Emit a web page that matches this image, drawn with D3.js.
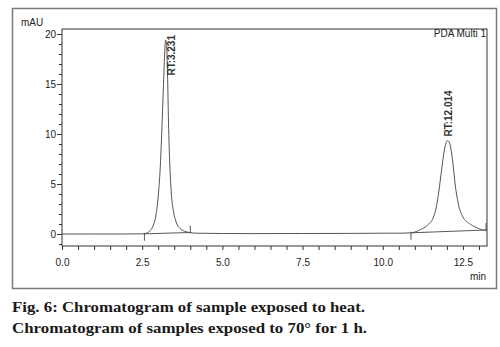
<!DOCTYPE html>
<html>
<head>
<meta charset="utf-8">
<script src="https://cdn.jsdelivr.net/npm/d3@7"></script>
<style>
  html, body { margin: 0; padding: 0; background: #fff; }
  svg { display: block; }
  .ax text { font-family: "Liberation Sans Narrow", "Arial Narrow", "Liberation Sans", Arial, sans-serif; font-size: 10px; fill: #222; }
  .lbl { font-family: "Liberation Sans Narrow", "Arial Narrow", "Liberation Sans", Arial, sans-serif; font-size: 10px; fill: #222; }
  .rt { font-family: "Liberation Sans", Arial, sans-serif; font-size: 10px; font-weight: bold; fill: #333; }
  .cap { font-family: "Book Antiqua", Palatino, "Liberation Serif", "DejaVu Serif", serif; font-size: 15.5px; font-weight: bold; fill: #1a1a1a; }
</style>
</head>
<body>
<svg id="chart" width="500" height="347"></svg>
<script>
// Detector trace, PDA Multi 1 (time in min, absorbance in mAU)
const traceTime = [
  0.0, 1.0, 2.0, 2.55, 2.65, 2.75, 2.85, 2.93, 3.0, 3.06, 3.11, 3.16, 3.2, 3.23, 3.26, 3.29, 3.32, 3.36, 3.41, 3.48, 3.57, 3.68, 3.82, 3.98, 4.2,
  5.0, 6.0, 7.5, 9.0, 10.0, 10.5, 10.88, 11.15, 11.4, 11.57, 11.67, 11.75, 11.83, 11.91, 11.98, 12.02, 12.07, 12.12, 12.19, 12.26, 12.35, 12.5, 12.7, 12.95, 13.2, 13.25
];
const traceMAU = [
  0.0, 0.0, 0.0, 0.02, 0.1, 0.35, 0.9, 1.9, 3.8, 6.5, 10.2, 14.5, 18.0, 19.4, 19.0, 16.0, 11.2, 7.0, 4.0, 2.2, 1.1, 0.55, 0.28, 0.15, 0.08,
  0.05, 0.04, 0.05, 0.06, 0.08, 0.08, 0.12, 0.4, 0.9, 1.6, 2.7, 4.3, 6.3, 8.2, 9.15, 9.35, 9.2, 8.6, 7.0, 4.9, 3.1, 1.7, 1.05, 0.6, 0.38, 0.45
];

// Integrated peaks: retention time, label, baseline start/end
const peakRT = [3.231, 12.014];
const peakLabels = ["RT:3.231", "RT:12.014"];
const peakApex = [19.4, 9.35];
const baseStartT = [2.57, 10.88];
const baseStartV = [0.02, 0.12];
const baseEndT = [4.0, 13.22];
const baseEndV = [0.15, 0.4];

const xMajorTicks = [0, 2.5, 5.0, 7.5, 10.0, 12.5];
const yMajorTicks = [0, 5, 10, 15, 20];

const svg = d3.select("#chart");

// Outer panel frame
svg.append("rect")
  .attr("x", 12.5).attr("y", 8.5).attr("width", 484).attr("height", 280)
  .attr("fill", "none").attr("stroke", "#7a7a7a").attr("stroke-width", 1.5);

const pLeft = 62, pRight = 487, pTop = 29, pBottom = 246;
const x = d3.scaleLinear().domain([0, 13.25]).range([pLeft, pRight]);
const y = d3.scaleLinear().domain([-1.2, 20.5]).range([pBottom, pTop]);

// Minor ticks
const xMinor = d3.range(0, 13.01, 0.5).filter(v => !xMajorTicks.some(m => Math.abs(m - v) < 1e-6));
const yMinor = d3.range(-1, 20.01, 1).filter(v => !yMajorTicks.includes(v));

svg.append("g").attr("class", "ax").attr("transform", `translate(0,${pBottom})`)
  .call(d3.axisBottom(x).tickValues(xMinor).tickSize(4).tickSizeOuter(0).tickFormat(""))
  .call(g => g.select(".domain").remove())
  .call(g => g.selectAll("line").attr("stroke", "#333"));

svg.append("g").attr("class", "ax").attr("transform", `translate(${pLeft},0)`)
  .call(d3.axisLeft(y).tickValues(yMinor).tickSize(3).tickSizeOuter(0).tickFormat(""))
  .call(g => g.select(".domain").remove())
  .call(g => g.selectAll("line").attr("stroke", "#333"));

// Major ticks with labels
svg.append("g").attr("class", "ax").attr("transform", `translate(0,${pBottom})`)
  .call(d3.axisBottom(x).tickValues(xMajorTicks).tickSize(4).tickSizeOuter(0).tickFormat(d3.format(".1f")))
  .call(g => g.select(".domain").remove())
  .call(g => g.selectAll("line").attr("stroke", "#333"))
  .call(g => g.selectAll("text").attr("y", 12.5));

svg.append("g").attr("class", "ax").attr("transform", `translate(${pLeft},0)`)
  .call(d3.axisLeft(y).tickValues(yMajorTicks).tickSize(5).tickPadding(1).tickSizeOuter(0))
  .call(g => g.select(".domain").remove())
  .call(g => g.selectAll("line").attr("stroke", "#333"));

// Plot box
svg.append("rect")
  .attr("x", pLeft).attr("y", pTop).attr("width", pRight - pLeft).attr("height", pBottom - pTop)
  .attr("fill", "none").attr("stroke", "#333").attr("stroke-width", 1);

// Axis titles
svg.append("text").attr("class", "lbl").attr("x", 21).attr("y", 26).text("mAU");
svg.append("text").attr("class", "lbl").attr("x", 486).attr("y", 280).attr("text-anchor", "end").text("min");
svg.append("text").attr("class", "lbl").attr("x", 486).attr("y", 37).attr("text-anchor", "end").text("PDA Multi 1");

// Integration baselines and markers
const plot = svg.append("g");
peakRT.forEach((rt, i) => {
  plot.append("line")
    .attr("x1", x(baseStartT[i])).attr("y1", y(baseStartV[i]))
    .attr("x2", x(baseEndT[i])).attr("y2", y(baseEndV[i]))
    .attr("stroke", "#444").attr("stroke-width", 0.9);
  // start marker points up from below, end marker hangs down from above
  plot.append("line")
    .attr("x1", x(baseStartT[i])).attr("x2", x(baseStartT[i]))
    .attr("y1", y(baseStartV[i]) - 1).attr("y2", y(baseStartV[i]) + 7)
    .attr("stroke", "#444").attr("stroke-width", 0.9);
  plot.append("line")
    .attr("x1", x(baseEndT[i])).attr("x2", x(baseEndT[i]))
    .attr("y1", y(baseEndV[i]) - 7).attr("y2", y(baseEndV[i]) + 1)
    .attr("stroke", "#444").attr("stroke-width", 0.9);
});

// Trace
const pts = traceTime.map((t, i) => [t, traceMAU[i]]);
plot.append("path")
  .datum(pts)
  .attr("fill", "none")
  .attr("stroke", "#555")
  .attr("stroke-width", 1)
  .attr("d", d3.line().x(d => x(d[0])).y(d => y(d[1])).curve(d3.curveMonotoneX));

// Retention time labels, rotated to read upward; a label that would run past
// the top of the plot is pinned under the frame and moved aside of the peak.
peakRT.forEach((rt, i) => {
  const t = svg.append("text").attr("class", "rt").text(peakLabels[i]);
  const len = t.node().getComputedTextLength();
  let start = y(peakApex[i]) - 4;
  let lx = x(rt) + 5;
  if (start - len < pTop + 6) {
    start = pTop + 6 + len;
    lx = x(rt) + 9;
  }
  t.attr("transform", `translate(${lx},${start}) rotate(-90)`);
});

// Caption
svg.append("text").attr("class", "cap").attr("x", 12).attr("y", 312)
  .attr("textLength", 353).attr("lengthAdjust", "spacingAndGlyphs")
  .text("Fig. 6: Chromatogram of sample exposed to heat.");
svg.append("text").attr("class", "cap").attr("x", 12).attr("y", 333)
  .attr("textLength", 355).attr("lengthAdjust", "spacingAndGlyphs")
  .text("Chromatogram of samples exposed to 70° for 1 h.");
</script>
</body>
</html>
